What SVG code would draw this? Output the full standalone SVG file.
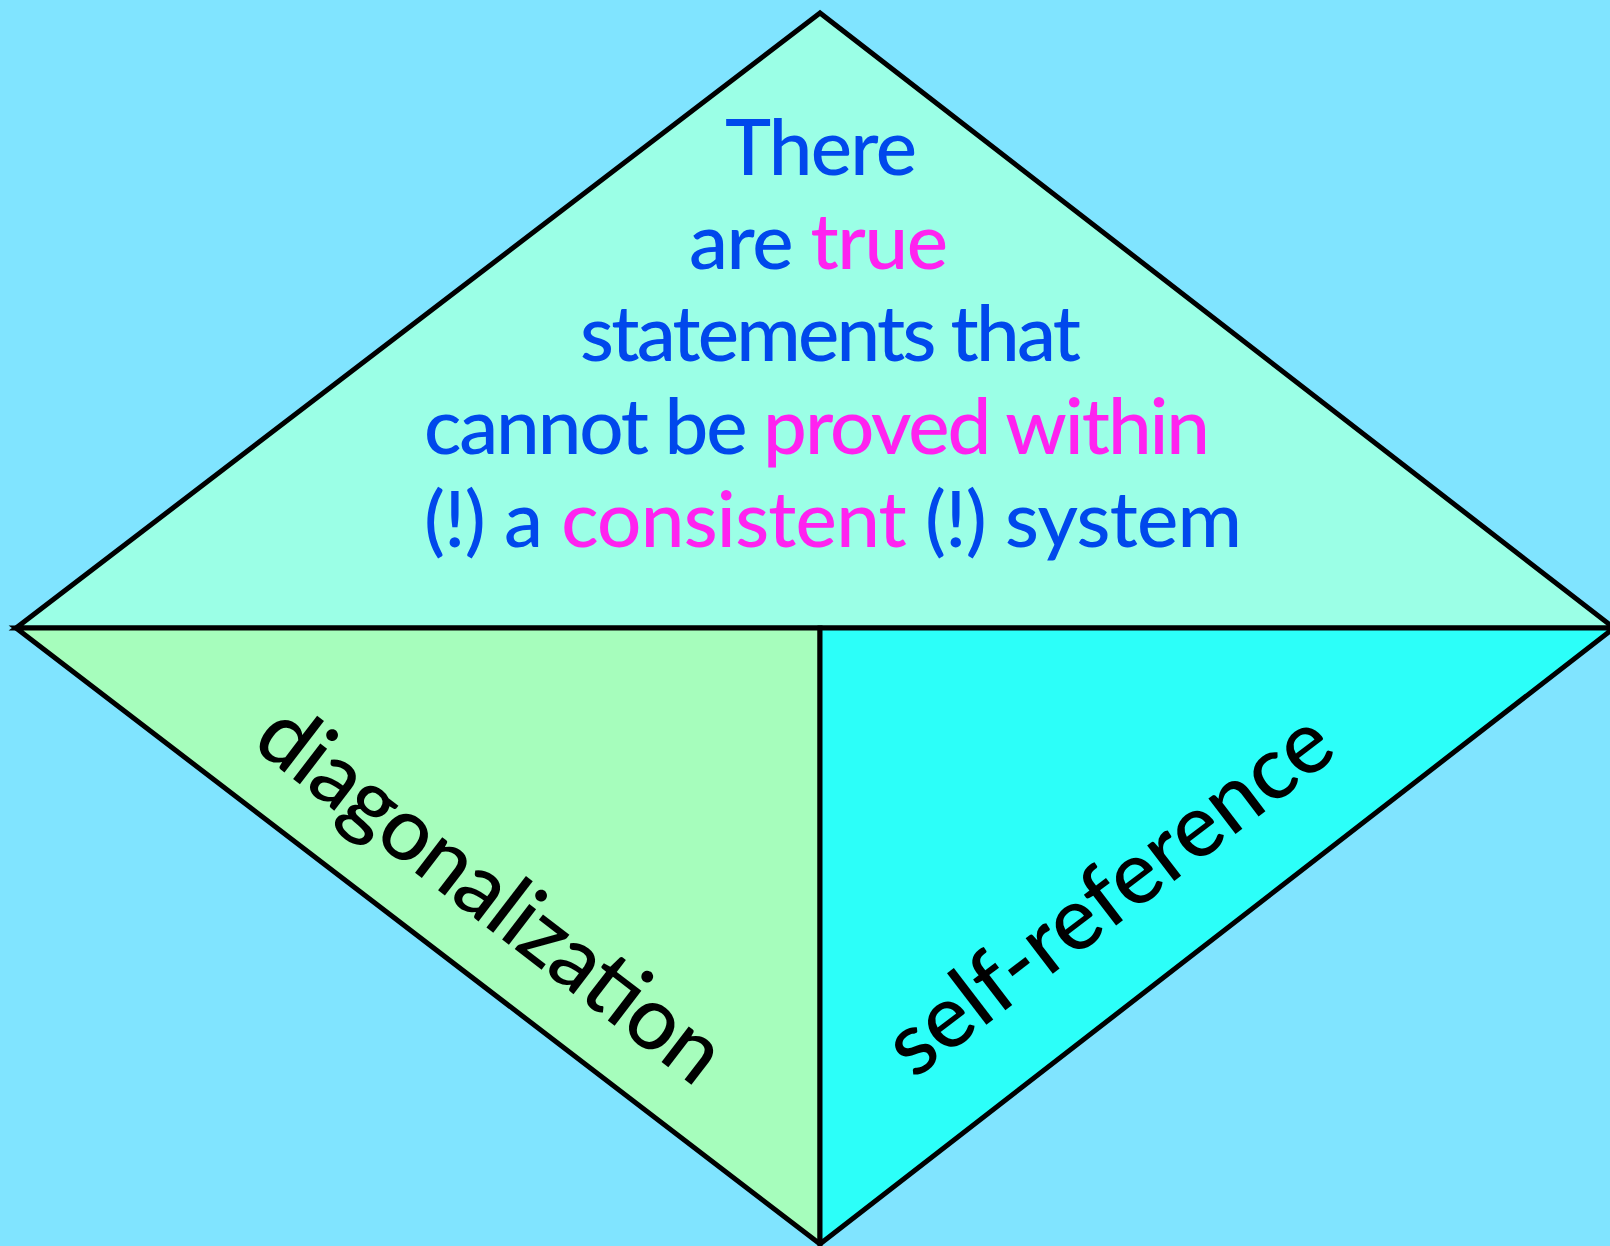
<svg xmlns="http://www.w3.org/2000/svg" width="1610" height="1246" viewBox="0 0 1610 1246">
<style>
.shape{stroke:#000;stroke-width:5;stroke-linejoin:miter}
.t{font-family:Lato,"Open Sans","Liberation Sans",sans-serif;font-size:78px;font-weight:500}
.b{fill:#0048ec}
.m{fill:#ff22f0}
.k{font-family:Lato,"Open Sans","Liberation Sans",sans-serif;font-size:88px;font-weight:500;fill:#000}
</style>
<rect x="0" y="0" width="1610" height="1246" fill="#80e4ff"/>
<g id="top">
<polygon class="shape" points="820,13 16,628 1614,628" fill="#9bffe6"/>
<text class="t b" x="725" y="175" textLength="192">There</text>
<text class="t b" x="689" y="269" textLength="259">are <tspan class="m">true</tspan></text>
<text class="t b" x="580" y="361" textLength="501">statements that</text>
<text class="t b" x="424" y="454" textLength="786">cannot be <tspan class="m">proved within</tspan></text>
<text class="t b" x="424" y="547" textLength="818">(!) a <tspan class="m">consistent</tspan> (!) system</text>
</g>
<g id="diagonalization">
<polygon class="shape" points="16,628 820,628 820,1244" fill="#a6fdbc"/>
<text class="k" transform="translate(250,746) rotate(37.5)" textLength="562">diagonalization</text>
</g>
<g id="self-reference">
<polygon class="shape" points="820,628 1614,628 820,1244" fill="#2cfff9"/>
<text class="k" transform="translate(914,1080) rotate(-37.4)" textLength="536">self-reference</text>
</g>
</svg>
